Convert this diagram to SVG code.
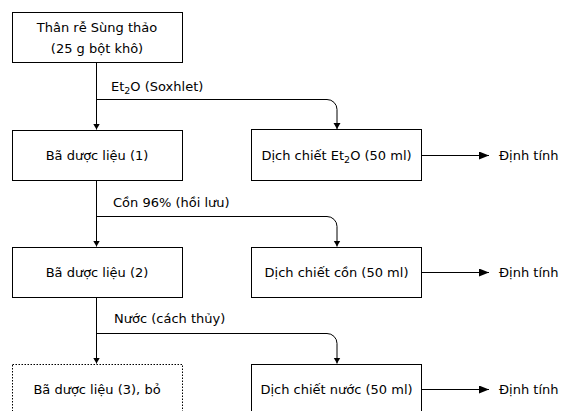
<svg xmlns="http://www.w3.org/2000/svg" width="564" height="411" viewBox="0 0 564 411">
<style>
.box{fill:#fff;stroke:#000;stroke-width:1}
.dot{fill:#fff;stroke:#000;stroke-width:1;stroke-dasharray:1.5 1.5}
.t{font-family:"DejaVu Sans",Verdana,sans-serif;font-size:13px;fill:#000}
.c{text-anchor:middle}
.ln{fill:none;stroke:#000;stroke-width:1}
</style>
<defs>
<marker id="ah" markerUnits="userSpaceOnUse" markerWidth="8" markerHeight="8" refX="6" refY="3.5" orient="auto">
<path d="M0,0 L6,3.5 L0,7 Z" fill="#000"/>
</marker>
<marker id="ahb" markerUnits="userSpaceOnUse" markerWidth="12" markerHeight="10" refX="10" refY="4" orient="auto">
<path d="M0,0 L10,4 L0,8 Z" fill="#000"/>
</marker>
</defs>
<g id="connectors">
<path class="ln" d="M96.5,62 V129.5" marker-end="url(#ah)"/>
<path class="ln" d="M96.5,99.5 H327 A10,10 0 0 1 337,109.5 V129" marker-end="url(#ah)"/>
<path class="ln" d="M96.5,180 V246.5" marker-end="url(#ah)"/>
<path class="ln" d="M96.5,216.5 H327 A10,10 0 0 1 337,226.5 V246.5" marker-end="url(#ah)"/>
<path class="ln" d="M96.5,297 V363.5" marker-end="url(#ah)"/>
<path class="ln" d="M96.5,333.5 H327 A10,10 0 0 1 337,343.5 V363.5" marker-end="url(#ah)"/>
<path class="ln" d="M422,155.5 H489" marker-end="url(#ahb)"/>
<path class="ln" d="M422,272.5 H489" marker-end="url(#ahb)"/>
<path class="ln" d="M422,389.5 H489" marker-end="url(#ahb)"/>
<text class="t" x="111" y="91">Et<tspan font-size="9.5" dy="3">2</tspan><tspan dy="-3">O (Soxhlet)</tspan></text>
<text class="t" x="113" y="207">Cồn 96% (hồi lưu)</text>
<text class="t" x="114" y="323">Nước (cách thủy)</text>
</g>
<g id="n-start">
<rect class="box" x="12.5" y="12.5" width="170" height="50"/>
<text class="t c" x="97" y="31.5">Thân rễ Sùng thảo</text>
<text class="t c" x="97" y="53">(25 g bột khô)</text>
</g>
<g id="n-ba1">
<rect class="box" x="12.5" y="130.5" width="170" height="50"/>
<text class="t c" x="97" y="160">Bã dược liệu (1)</text>
</g>
<g id="n-dich1">
<rect class="box" x="251.5" y="129.5" width="170" height="51"/>
<text class="t c" x="336.5" y="160">Dịch chiết Et<tspan font-size="9.5" dy="3">2</tspan><tspan dy="-3">O (50 ml)</tspan></text>
</g>
<g id="n-dt1"><text class="t" x="499" y="160">Định tính</text></g>
<g id="n-ba2">
<rect class="box" x="12.5" y="247.5" width="170" height="50"/>
<text class="t c" x="97" y="277">Bã dược liệu (2)</text>
</g>
<g id="n-dich2">
<rect class="box" x="251.5" y="247.5" width="170" height="50"/>
<text class="t c" x="336.5" y="277">Dịch chiết cồn (50 ml)</text>
</g>
<g id="n-dt2"><text class="t" x="499" y="277">Định tính</text></g>
<g id="n-ba3">
<rect class="dot" x="12.5" y="364.5" width="170" height="50"/>
<text class="t c" x="97" y="394">Bã dược liệu (3), bỏ</text>
</g>
<g id="n-dich3">
<rect class="box" x="251.5" y="364.5" width="170" height="50"/>
<text class="t c" x="336.5" y="394">Dịch chiết nước (50 ml)</text>
</g>
<g id="n-dt3"><text class="t" x="499" y="394">Định tính</text></g>
</svg>
